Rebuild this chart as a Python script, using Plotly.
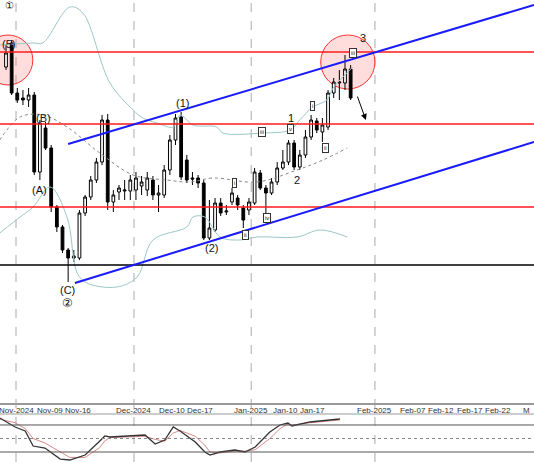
import plotly.graph_objects as go

# ---- data (price units arbitrary) ----
opens  = [333,357,307,302,300,305,228,272,252,193,173,150,142,142,187,203,220,238,280,198,208,209,209,210,214,210,220,205,205,230,260,283,240,222,222,217,162,170,197,188,198,202,192,190,197,227,212,207,218,232,238,257,233,245,263,279,268,273,307,317,317,331]
closes = [347,307,300,300,305,228,277,252,193,173,150,142,144,187,203,220,238,280,198,205,212,210,220,222,218,222,205,207,230,260,282,223,220,221,217,162,172,197,187,189,207,195,180,198,228,212,207,218,232,238,257,233,245,263,280,270,275,307,318,318,331,302]
highs  = [355,360,312,310,312,308,280,278,255,195,175,152,150,190,205,224,242,285,286,210,215,220,225,228,224,228,224,215,235,265,286,288,245,228,225,220,200,202,202,195,212,205,195,202,232,230,215,222,238,250,260,260,250,270,285,282,282,310,322,330,345,335]
lows   = [330,305,297,295,293,225,220,250,188,168,147,118,138,140,184,200,217,235,190,188,200,200,200,200,205,204,200,188,202,225,255,220,217,215,212,160,160,168,184,185,195,190,172,185,195,210,180,205,215,230,235,230,230,242,260,267,258,270,302,300,310,300]
idx = list(range(len(opens)))

bb_up_x = [-1.1,4.8,6.5,11.3,13.6,18.4,22.5,24.2,26.7,29.6,30.8,33.1,37.3,38.4,45.5,50.3,52,54.3,56.8,57.9,61.4]
bb_up_y = [355,357,357,393,387,317,290,282,277,273,285,275,273,267,267,270,280,293,300,312,333]
bb_lo_x = [-1.1,2.5,4.8,7.8,10.8,12.6,14.3,19.6,23.2,26,32,33.1,35.2,37.9,41.4,44.4,51.5,55.6,60.4]
bb_lo_y = [167,183,193,213,183,127,117,113,123,160,173,183,183,163,160,163,163,170,163]
bb_mid_x = [-1.1,2.5,6.5,10.8,16.6,22.5,28.5,32.6,36.6,44.4,51.5,56.1,60.4]
bb_mid_y = [260,283,285,273,247,225,220,218,222,218,230,240,252]

osc_x = [-1.1,1.6,3.4,4.8,6.9,9.6,11.3,14,16.6,17.5,18.4,24.6,26.4,28.1,29.6,30.8,33.5,35.2,36.1,37.9,40.5,42.3,44.1,46.7,48.5,49.9,50.6,52,53.8,57.3,59.1]
osc_k = [95.6,75.6,66.7,33.3,28.9,4.4,2.2,13.3,44.4,55.6,53.3,57.8,37.8,46.7,75.6,66.7,42.2,20,13.3,20,24.4,20,31.1,64.4,80,84.4,77.8,82.2,86.7,91.1,93.3]
osc_d = [93,85,72,50,40,20,8,8,30,45,52,55,48,44,62,68,55,35,20,18,22,22,25,50,72,82,80,82,85,89,91]

tick_labels = ["Nov-2024","Nov-09","Nov-16","Dec-2024","Dec-10","Dec-17","Jan-2025","Jan-10","Jan-17","Feb-2025","Feb-07","Feb-12","Feb-17","Feb-22","M"]
tick_pos = [1.77,7.8,12.7,22.65,29.4,34.3,43.4,49.4,54.3,65.3,72.0,77.0,82.1,87.1,92.2]
month_lines = [1.77,22.65,43.4,65.3]

red_levels = [348,276,193]
black_level = 135
chan_up = ([11.0,93.45],[256,395])
chan_lo = ([12.2,93.45],[117,258])

X0, X1 = -6/5.65, 528/5.65

fig = go.Figure()
for xs, ys in [(bb_up_x,bb_up_y),(bb_lo_x,bb_lo_y)]:
    fig.add_trace(go.Scatter(x=xs,y=ys,mode="lines",line=dict(color="#9cc7c9",width=1,shape="spline"),hoverinfo="skip"))
fig.add_trace(go.Scatter(x=bb_mid_x,y=bb_mid_y,mode="lines",line=dict(color="#888",width=1,dash="dot",shape="spline"),hoverinfo="skip"))
fig.add_trace(go.Candlestick(x=idx,open=opens,high=highs,low=lows,close=closes,
    increasing=dict(line=dict(color="black",width=1),fillcolor="white"),
    decreasing=dict(line=dict(color="black",width=1),fillcolor="black"),whiskerwidth=0))
fig.add_trace(go.Scatter(x=osc_x,y=osc_d,mode="lines",line=dict(color="#d98a8a",width=1),xaxis="x2",yaxis="y2",hoverinfo="skip"))
fig.add_trace(go.Scatter(x=osc_x,y=osc_k,mode="lines",line=dict(color="#333",width=1.3),xaxis="x2",yaxis="y2",hoverinfo="skip"))

shapes = []
for v in red_levels:
    shapes.append(dict(type="line",xref="x",yref="y",x0=X0,x1=X1,y0=v,y1=v,line=dict(color="#ff1a1a",width=1.5)))
shapes.append(dict(type="line",xref="x",yref="y",x0=X0,x1=X1,y0=black_level,y1=black_level,line=dict(color="black",width=1.5)))
for xs, ys in [chan_up, chan_lo]:
    shapes.append(dict(type="line",xref="x",yref="y",x0=xs[0],x1=xs[1],y0=ys[0],y1=ys[1],line=dict(color="#1a1aff",width=2)))
for cx, cy, rx, ry in [(0.35,340,4.4,25),(60.5,338,4.8,27)]:
    shapes.append(dict(type="circle",xref="x",yref="y",x0=cx-rx,x1=cx+rx,y0=cy-ry,y1=cy+ry,
                       line=dict(color="#ff3333",width=1),fillcolor="rgba(255,120,120,0.25)",layer="below"))
for m in month_lines:
    shapes.append(dict(type="line",xref="x",yref="paper",x0=m,x1=m,y0=0,y1=1,line=dict(color="#aaa",width=1,dash="dash"),layer="below"))
for v in [80,50,20]:
    shapes.append(dict(type="line",xref="x2",yref="y2",x0=X0,x1=X1,y0=v,y1=v,line=dict(color="#555" if v!=50 else "#888",width=1,dash="solid" if v!=50 else "dot")))
shapes.append(dict(type="line",xref="paper",yref="paper",x0=0,x1=1,y0=1-404/462,y1=1-404/462,line=dict(color="#999",width=2)))
shapes.append(dict(type="line",xref="paper",yref="paper",x0=0,x1=1,y0=1-414/462,y1=1-414/462,line=dict(color="#999",width=1)))

ann = []
def t(x,y,s,size=11):
    ann.append(dict(x=x,y=y,xref="x",yref="y",text=s,showarrow=False,font=dict(size=size,color="#111")))
def c(x,y,s):
    ann.append(dict(x=x,y=y,xref="x",yref="y",text=s,showarrow=False,font=dict(size=6,color="#111"),
                    bordercolor="#333",borderwidth=1,borderpad=1,bgcolor="white"))
t(0.7,395,"①",10); t(0.5,356,"(5)"); t(6.7,282,"(B)"); t(6,210,"(A)"); t(10.8,110,"(C)"); t(10.8,97,"②",12)
t(31.2,297,"(1)"); t(36.3,152,"(2)"); t(50.4,282,"1"); t(51.5,220,"2"); t(63.2,362,"3")
c(40.4,217,"i"); c(42.3,165,"ii"); c(45.3,268,"iii"); c(46.2,182,"iv"); c(50.3,271,"v")
c(54.3,294,"i"); c(56.5,252,"ii"); c(61.4,347,"iii")
ann.append(dict(x=63.7,y=280,ax=62.1,ay=305,xref="x",yref="y",axref="x",ayref="y",showarrow=True,arrowhead=2,arrowsize=1.2,arrowwidth=1,arrowcolor="black",text=""))
for p, s in zip(tick_pos, tick_labels):
    ann.append(dict(x=p,y=1-404/462,xref="x",yref="paper",text=s,showarrow=False,xanchor="center",yanchor="top",
                    font=dict(size=8,color="#333",family="Liberation Sans")))

fig.update_layout(width=534,height=462,margin=dict(l=0,r=0,t=0,b=0),paper_bgcolor="white",plot_bgcolor="white",
    showlegend=False,shapes=shapes,annotations=ann,font=dict(family="Liberation Sans"),
    xaxis=dict(range=[X0,X1],showgrid=False,showticklabels=False,zeroline=False,rangeslider=dict(visible=False),domain=[0,1]),
    yaxis=dict(range=[-3,400],showgrid=False,showticklabels=False,zeroline=False,domain=[1-403/462,1]),
    xaxis2=dict(range=[X0,X1],showgrid=False,showticklabels=False,zeroline=False,anchor="y2",matches=None),
    yaxis2=dict(range=[-2.2,102.2],showgrid=False,showticklabels=False,zeroline=False,domain=[0,1-415/462],anchor="x2"))
fig.write_html("out.html", config={"displayModeBar": False})
with open("out.html", encoding="utf-8") as f:
    html = f.read()
html = html.replace("<head>", "<head><style>html,body{margin:0;padding:0;overflow:hidden}</style>", 1)
with open("out.html", "w", encoding="utf-8") as f:
    f.write(html)
